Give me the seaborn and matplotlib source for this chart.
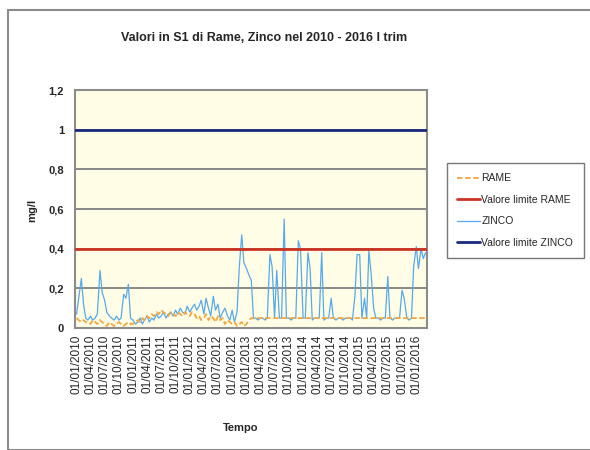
import numpy as np
import pandas as pd
import matplotlib
matplotlib.use("Agg")
import matplotlib.pyplot as plt
from matplotlib.patches import Rectangle
import seaborn as sns

# ---------------- data ----------------
title = "Valori in S1 di Rame, Zinco nel 2010 - 2016 I trim"
y_label = "mg/l"
x_label = "Tempo"
y_ticks = [0, 0.2, 0.4, 0.6, 0.8, 1.0, 1.2]
y_tick_labels = ["0", "0,2", "0,4", "0,6", "0,8", "1", "1,2"]
x_tick_dates = ["2010-01-01", "2010-04-01", "2010-07-01", "2010-10-01",
                "2011-01-01", "2011-04-01", "2011-07-01", "2011-10-01",
                "2012-01-01", "2012-04-01", "2012-07-01", "2012-10-01",
                "2013-01-01", "2013-04-01", "2013-07-01", "2013-10-01",
                "2014-01-01", "2014-04-01", "2014-07-01", "2014-10-01",
                "2015-01-01", "2015-04-01", "2015-07-01", "2015-10-01",
                "2016-01-01"]
x_tick_labels = ["01/01/2010", "01/04/2010", "01/07/2010", "01/10/2010",
                 "01/01/2011", "01/04/2011", "01/07/2011", "01/10/2011",
                 "01/01/2012", "01/04/2012", "01/07/2012", "01/10/2012",
                 "01/01/2013", "01/04/2013", "01/07/2013", "01/10/2013",
                 "01/01/2014", "01/04/2014", "01/07/2014", "01/10/2014",
                 "01/01/2015", "01/04/2015", "01/07/2015", "01/10/2015",
                 "01/01/2016"]

# semi-monthly sampling dates (1st and 15th), Jan 2010 - Mar 2016
zinco_dates = [f"{y}-{m:02d}-{d:02d}" for y in range(2010, 2017) for m in range(1, 13)
               for d in (1, 15) if (y < 2016 or m <= 3)]
zinco_vals = [
    # 2010
    0.07, 0.15, 0.25, 0.12, 0.05, 0.04, 0.06, 0.04, 0.05, 0.07, 0.29, 0.18,
    0.14, 0.08, 0.06, 0.05, 0.04, 0.06, 0.04, 0.05, 0.17, 0.15, 0.22, 0.05,
    # 2011
    0.04, 0.02, 0.03, 0.05, 0.02, 0.04, 0.06, 0.03, 0.05, 0.04, 0.07, 0.05,
    0.06, 0.08, 0.05, 0.07, 0.08, 0.06, 0.09, 0.07, 0.10, 0.08, 0.07, 0.11,
    # 2012
    0.08, 0.10, 0.12, 0.09, 0.11, 0.14, 0.07, 0.15, 0.10, 0.06, 0.16, 0.09,
    0.12, 0.05, 0.08, 0.10, 0.06, 0.04, 0.09, 0.03, 0.08, 0.30, 0.47, 0.33,
    # 2013
    0.30, 0.27, 0.24, 0.05, 0.05, 0.04, 0.05, 0.05, 0.04, 0.05, 0.37, 0.31,
    0.05, 0.29, 0.05, 0.05, 0.55, 0.05, 0.05, 0.04, 0.05, 0.05, 0.44, 0.40,
    # 2014
    0.05, 0.05, 0.38, 0.30, 0.04, 0.05, 0.05, 0.05, 0.38, 0.04, 0.05, 0.05,
    0.15, 0.05, 0.04, 0.05, 0.05, 0.04, 0.05, 0.05, 0.05, 0.04, 0.16, 0.37,
    # 2015
    0.37, 0.05, 0.15, 0.05, 0.39, 0.28, 0.10, 0.05, 0.05, 0.04, 0.05, 0.05,
    0.26, 0.05, 0.04, 0.05, 0.05, 0.05, 0.19, 0.15, 0.05, 0.04, 0.05, 0.31,
    # 2016
    0.41, 0.30, 0.40, 0.35, 0.38, 0.36,
]

rame_dates = [f"{y}-{m:02d}-{d:02d}" for y in range(2010, 2013) for m in range(1, 13)
              for d in (1, 15)] + ["2013-01-01", "2013-01-15", "2013-02-01", "2016-03-01"]
rame_vals = [
    # 2010
    0.05, 0.04, 0.03, 0.04, 0.03, 0.03, 0.02, 0.04, 0.03, 0.02, 0.04, 0.03,
    0.02, 0.01, 0.03, 0.02, 0.01, 0.02, 0.03, 0.02, 0.01, 0.02, 0.03, 0.02,
    # 2011
    0.02, 0.03, 0.04, 0.03, 0.05, 0.04, 0.06, 0.05, 0.07, 0.06, 0.08, 0.07,
    0.09, 0.08, 0.07, 0.06, 0.08, 0.07, 0.06, 0.08, 0.07, 0.06, 0.08, 0.07,
    # 2012
    0.06, 0.08, 0.07, 0.05, 0.06, 0.04, 0.05, 0.07, 0.04, 0.06, 0.05, 0.03,
    0.06, 0.04, 0.05, 0.02, 0.04, 0.03, 0.02, 0.03, 0.01, 0.02, 0.03, 0.01,
    # 2013 - 2016
    0.02, 0.04, 0.05, 0.05,
]

rame_limit = 0.4
zinco_limit = 1.0

# ---------------- plotting ----------------
sns.set_style("white")
plt.rcParams["font.family"] = ["Liberation Sans", "DejaVu Sans"]

fig = plt.figure(figsize=(5.9, 4.5), dpi=100)
fig.patches.append(Rectangle((8 / 590, 0.0), 1.0, 1 - 10 / 450, transform=fig.transFigure,
                             fill=False, edgecolor="#8c8c8c", linewidth=1.5))
ax = fig.add_axes([75 / 590, 1 - 328 / 450, (427 - 75) / 590, (328 - 90) / 450])
ax.set_facecolor("#fffde6")

zdf = pd.DataFrame({"date": pd.to_datetime(zinco_dates), "val": zinco_vals})
rdf = pd.DataFrame({"date": pd.to_datetime(rame_dates), "val": rame_vals})

for yv in y_ticks[1:]:
    ax.axhline(yv, color="#7f7f7f", linewidth=1.3, zorder=1)

sns.lineplot(data=rdf, x="date", y="val", ax=ax, color="#f4a640", linewidth=1.3,
             linestyle=(0, (3, 1.5)), label="RAME", zorder=3)
ax.axhline(rame_limit, color="#cc3322", linewidth=2, label="Valore limite RAME", zorder=4)
sns.lineplot(data=zdf, x="date", y="val", ax=ax, color="#55aaee", linewidth=0.9,
             label="ZINCO", zorder=2)
ax.axhline(zinco_limit, color="#1a2a80", linewidth=2, label="Valore limite ZINCO", zorder=4)

ax.set_ylim(0, 1.2)
ax.set_yticks(y_ticks)
ax.set_yticklabels(y_tick_labels, fontsize=8, fontweight="bold")
ax.set_xlim(pd.Timestamp("2009-12-22"), pd.Timestamp("2016-03-10"))
ax.set_xticks(pd.to_datetime(x_tick_dates))
ax.set_xticklabels(x_tick_labels, rotation=90, fontsize=8.5)
ax.tick_params(axis="both", length=3, width=1, color="#555555", pad=2, direction="out")
ax.tick_params(axis="y", pad=5)

for s in ax.spines.values():
    s.set_color("#8c8c8c")
    s.set_linewidth(1.5)

ax.set_xlabel(x_label, fontsize=8, fontweight="bold")
ax.xaxis.set_label_coords((241 - 75) / 352, -(423 - 328) / 238)
ax.set_ylabel(y_label, fontsize=8, fontweight="bold")
ax.yaxis.set_label_coords(-(75 - 37) / 352, (328 - 210) / 238)

fig.text(264 / 590, 1 - 38 / 450, title, ha="center", va="center", fontsize=9,
         fontweight="bold")

handles, labels = ax.get_legend_handles_labels()
leg = ax.legend(handles, labels, loc="upper left", bbox_to_anchor=(447 / 590, 1 - 163 / 450),
                bbox_transform=fig.transFigure, fontsize=7.5, frameon=True, fancybox=False,
                edgecolor="#555555", handlelength=2.2, handletextpad=0.1,
                labelspacing=1.1, borderpad=1.0, borderaxespad=0)
leg.get_frame().set_linewidth(1.0)

fig.savefig("out.png", dpi=100)
